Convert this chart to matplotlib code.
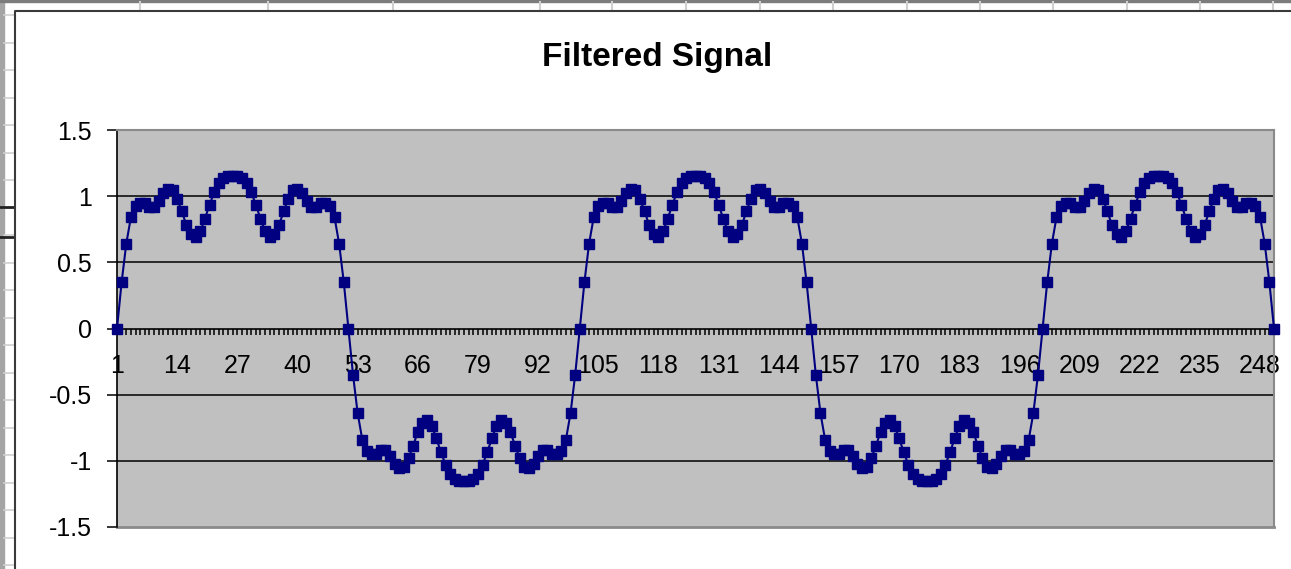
import numpy as np
import matplotlib
matplotlib.use("Agg")
import matplotlib.pyplot as plt
from matplotlib.patches import Rectangle

plt.rcParams['font.family'] = ['Liberation Sans', 'DejaVu Sans']

# data: 251 samples, 2.5 periods of a filtered square wave
signal = [
    0.0, 0.35, 0.64, 0.84, 0.925, 0.945, 0.945, 0.92, 0.92, 0.96,
    1.025, 1.055, 1.045, 0.98, 0.885, 0.78, 0.715, 0.69, 0.735, 0.83,
    0.935, 1.03, 1.1, 1.135, 1.15, 1.155, 1.15, 1.135, 1.1, 1.03,
    0.935, 0.83, 0.735, 0.69, 0.715, 0.78, 0.885, 0.98, 1.045, 1.055,
    1.025, 0.96, 0.92, 0.92, 0.945, 0.945, 0.925, 0.84, 0.64, 0.35,
    0.0, -0.35, -0.64, -0.84, -0.925, -0.945, -0.945, -0.92, -0.92, -0.96,
    -1.025, -1.055, -1.045, -0.98, -0.885, -0.78, -0.715, -0.69, -0.735, -0.83,
    -0.935, -1.03, -1.1, -1.135, -1.15, -1.155, -1.15, -1.135, -1.1, -1.03,
    -0.935, -0.83, -0.735, -0.69, -0.715, -0.78, -0.885, -0.98, -1.045, -1.055,
    -1.025, -0.96, -0.92, -0.92, -0.945, -0.945, -0.925, -0.84, -0.64, -0.35,
    0.0, 0.35, 0.64, 0.84, 0.925, 0.945, 0.945, 0.92, 0.92, 0.96,
    1.025, 1.055, 1.045, 0.98, 0.885, 0.78, 0.715, 0.69, 0.735, 0.83,
    0.935, 1.03, 1.1, 1.135, 1.15, 1.155, 1.15, 1.135, 1.1, 1.03,
    0.935, 0.83, 0.735, 0.69, 0.715, 0.78, 0.885, 0.98, 1.045, 1.055,
    1.025, 0.96, 0.92, 0.92, 0.945, 0.945, 0.925, 0.84, 0.64, 0.35,
    0.0, -0.35, -0.64, -0.84, -0.925, -0.945, -0.945, -0.92, -0.92, -0.96,
    -1.025, -1.055, -1.045, -0.98, -0.885, -0.78, -0.715, -0.69, -0.735, -0.83,
    -0.935, -1.03, -1.1, -1.135, -1.15, -1.155, -1.15, -1.135, -1.1, -1.03,
    -0.935, -0.83, -0.735, -0.69, -0.715, -0.78, -0.885, -0.98, -1.045, -1.055,
    -1.025, -0.96, -0.92, -0.92, -0.945, -0.945, -0.925, -0.84, -0.64, -0.35,
    0.0, 0.35, 0.64, 0.84, 0.925, 0.945, 0.945, 0.92, 0.92, 0.96,
    1.025, 1.055, 1.045, 0.98, 0.885, 0.78, 0.715, 0.69, 0.735, 0.83,
    0.935, 1.03, 1.1, 1.135, 1.15, 1.155, 1.15, 1.135, 1.1, 1.03,
    0.935, 0.83, 0.735, 0.69, 0.715, 0.78, 0.885, 0.98, 1.045, 1.055,
    1.025, 0.96, 0.92, 0.92, 0.945, 0.945, 0.925, 0.84, 0.64, 0.35,
    0.0,
]
categories = list(range(1, len(signal) + 1))
x_tick_labels = [str(c) for c in categories[::13]]
y_ticks = [1.5, 1, 0.5, 0, -0.5, -1, -1.5]
y_tick_labels = ["1.5", "1", "0.5", "0", "-0.5", "-1", "-1.5"]

W, H = 1291, 569
fig = plt.figure(figsize=(W / 100, H / 100), dpi=100)
fig.patch.set_facecolor("white")

# spreadsheet behind the chart (pixel coordinates)
bg = fig.add_axes([0, 0, 1, 1])
bg.set_xlim(0, W)
bg.set_ylim(H, 0)
bg.axis("off")
bg.add_patch(Rectangle((0, 0), 4, H, color="#a4a4a4"))
bg.add_patch(Rectangle((0, 0), W, 2, color="#7c7c7c"))
for yy in np.arange(15, H, 27.5):
    bg.plot([4, 15], [yy, yy], color="#cfcfcf", lw=1.2)
for xx in [140, 268, 393, 540, 612, 686, 760, 833, 907, 980, 1053, 1127, 1200, 1273]:
    bg.plot([xx, xx], [2, 10], color="#cfcfcf", lw=1.5)
for yy in [207, 237]:
    bg.plot([0, 14], [yy, yy], color="#222222", lw=2)
bg.plot([15, 15, W], [H, 10.5, 10.5], color="#3a3a3a", lw=1.5)

fig.text(657 / W, 1 - 57 / H, "Filtered Signal", ha="center", va="center",
         fontsize=24, fontweight="bold")

left, right, top, bottom = 117, 1274, 130, 527
ax = fig.add_axes([left / W, 1 - bottom / H, (right - left) / W, (bottom - top) / H])
ax.set_facecolor("#c0c0c0")
ax.set_xlim(1, len(signal))
ax.set_ylim(-1.5, 1.5)

for lvl in [1, 0.5, -0.5, -1]:
    ax.axhline(lvl, color="black", lw=1.1, zorder=1)

ax.plot(categories, signal, color="#000080", lw=1.5, marker="s", ms=6.5,
        mfc="#000080", mec="#000080", zorder=3, clip_on=False)

for s in ["top", "right"]:
    ax.spines[s].set_color("#8a8a8a")
    ax.spines[s].set_linewidth(1.5)
ax.spines["left"].set_color("black")
ax.spines["left"].set_linewidth(1.2)
ax.spines["bottom"].set_position(("data", 0))
ax.spines["bottom"].set_color("black")
ax.spines["bottom"].set_linewidth(1.2)
ax.plot([0, 1], [0, 0], transform=ax.transAxes, color="#8a8a8a", lw=2, clip_on=False)

ax.set_yticks(y_ticks)
ax.set_yticklabels(y_tick_labels)
ax.tick_params(axis="y", direction="out", length=7, width=1.1, pad=11, labelsize=18)

ax.set_xticks(categories[::13])
ax.set_xticklabels(x_tick_labels)
ax.set_xticks(categories, minor=True)
ax.tick_params(axis="x", which="both", direction="out", length=4.5, width=1.1,
               pad=14, labelsize=18)

fig.savefig("out.png", dpi=100)
